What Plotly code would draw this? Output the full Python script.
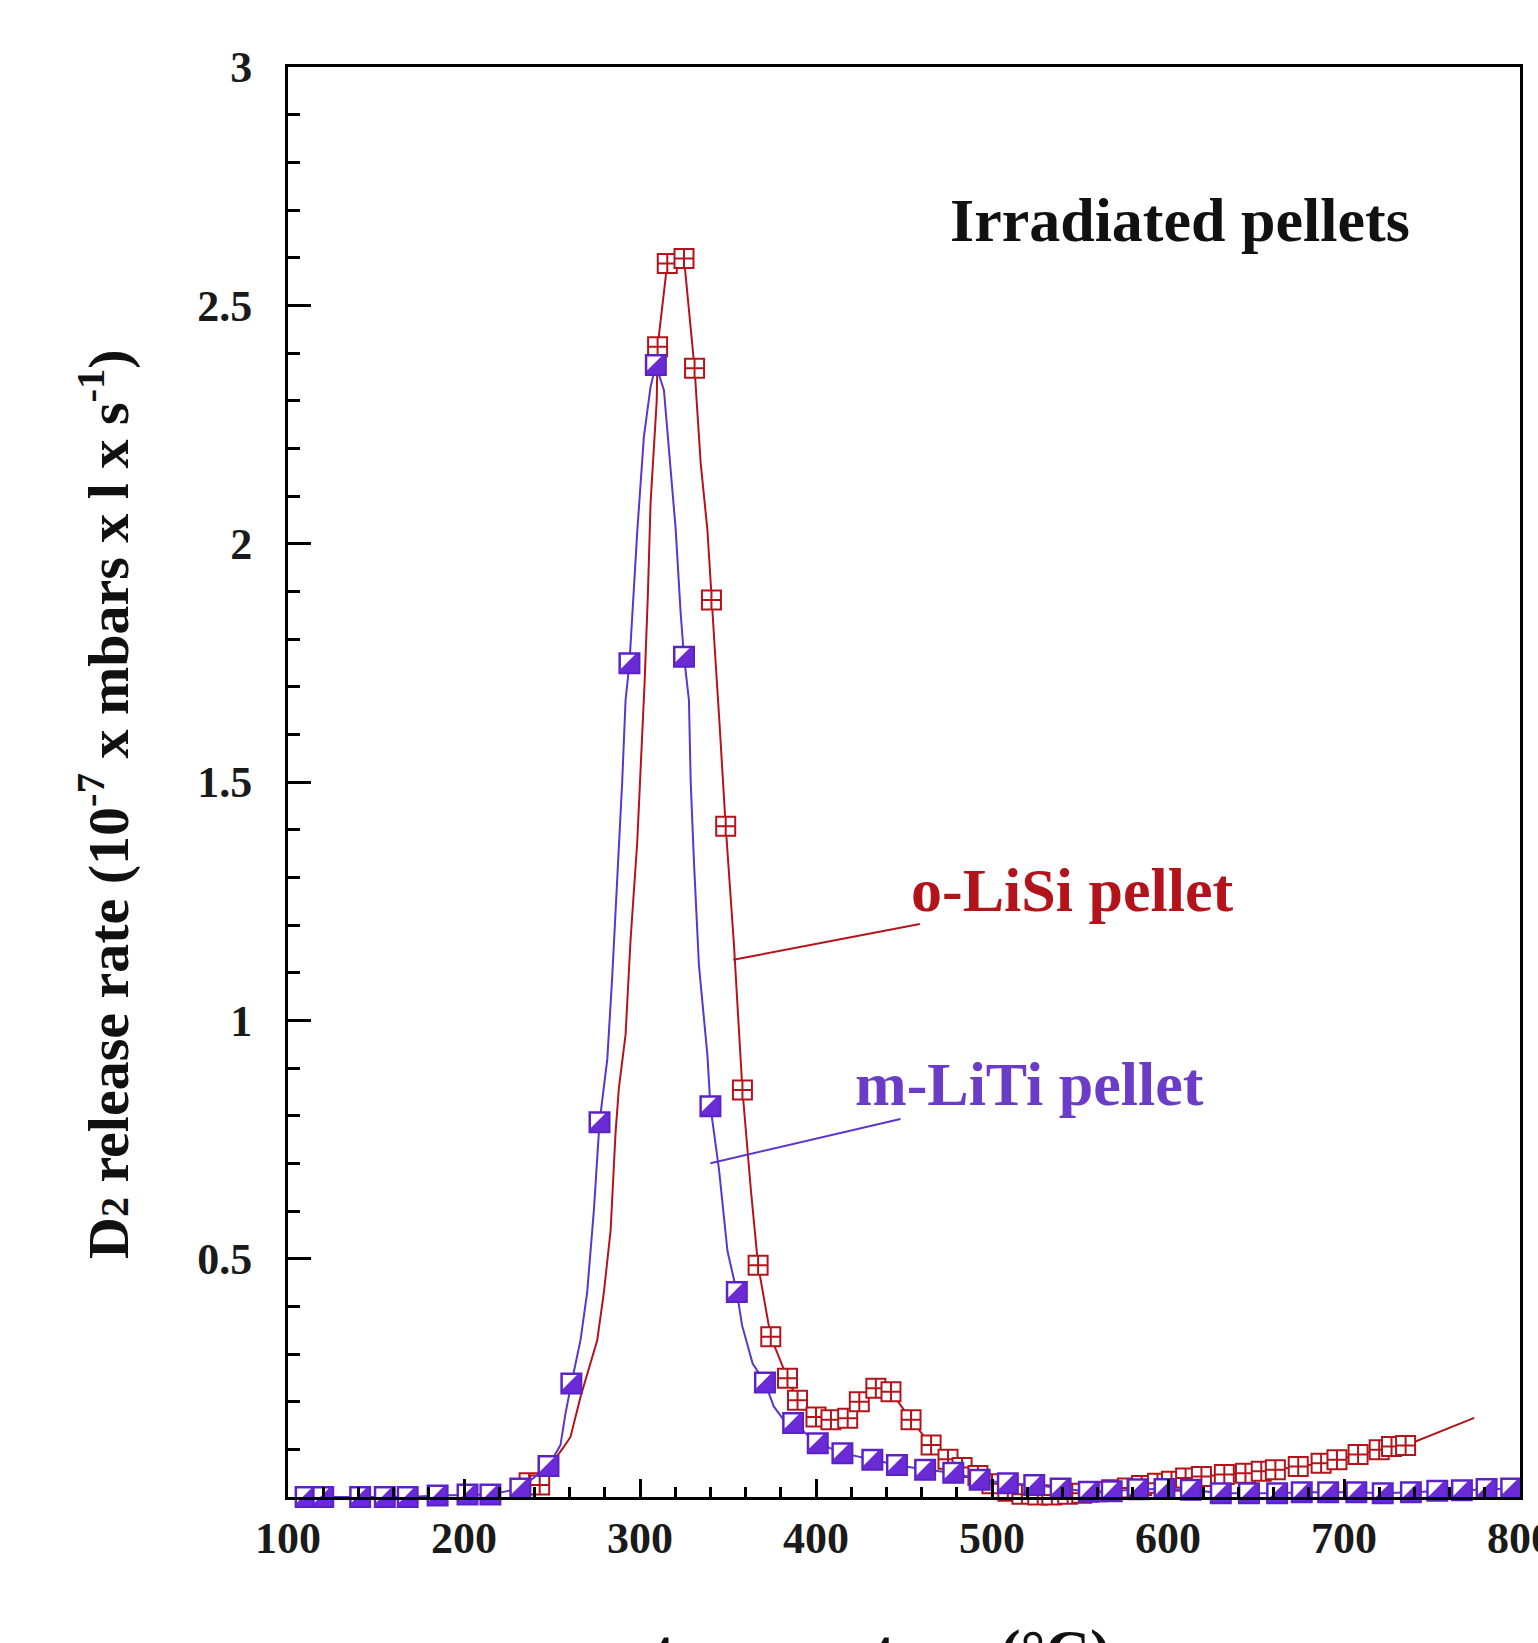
import plotly.graph_objects as go

# ---------------- data ----------------
# m-LiTi pellet : marker positions
liti_x = [110, 120, 141, 155, 168, 185, 202, 215, 232, 248, 261, 277, 294, 309, 325, 340, 355, 371,
          387, 401, 415, 432, 446, 462, 478, 493, 509, 524, 539, 555, 568, 583, 598, 613, 630, 646,
          662, 676, 691, 707, 722, 738, 753, 767, 781, 795]
liti_y = [0.0, 0.0, 0.0, 0.0, 0.0, 0.003, 0.005, 0.005, 0.018, 0.065, 0.238, 0.786, 1.749, 2.375,
          1.763, 0.82, 0.43, 0.24, 0.155, 0.113, 0.092, 0.078, 0.067, 0.057, 0.051, 0.036, 0.029,
          0.025, 0.018, 0.011, 0.012, 0.016, 0.017, 0.015, 0.008, 0.008, 0.008, 0.01, 0.01, 0.01,
          0.008, 0.01, 0.013, 0.014, 0.017, 0.018]

# m-LiTi pellet : curve vertices
liti_line_x = [110, 120, 141, 155, 168, 185, 202, 215, 232, 248, 254.8, 257.7, 261, 266.2, 270, 273.8,
               277, 281.4, 284.2, 287.1, 289.9, 291.8, 294, 298.5, 302.2, 306, 309, 313.6, 317.4,
               320.3, 323.1, 325, 327.8, 328.8, 330.7, 333.5, 338.3, 340, 344.9, 349.7, 355, 358,
               364, 371, 376, 381, 387, 401, 415, 432, 446, 462, 478, 493, 509, 524, 539, 555, 568,
               583, 598, 613, 630, 646, 662, 676, 691, 707, 722, 738, 753, 767, 781, 795]
liti_line_y = [0.0, 0.0, 0.0, 0.0, 0.0, 0.003, 0.005, 0.005, 0.018, 0.065, 0.109, 0.176, 0.238, 0.329,
               0.43, 0.602, 0.786, 0.918, 1.09, 1.287, 1.501, 1.672, 1.749, 2.029, 2.224, 2.329,
               2.375, 2.322, 2.154, 2.029, 1.854, 1.763, 1.672, 1.501, 1.329, 1.115, 0.927, 0.82,
               0.687, 0.516, 0.43, 0.36, 0.28, 0.24, 0.19, 0.165, 0.155, 0.113, 0.092, 0.078, 0.067,
               0.057, 0.051, 0.036, 0.029, 0.025, 0.018, 0.011, 0.012, 0.016, 0.017, 0.015, 0.008,
               0.008, 0.008, 0.01, 0.01, 0.01, 0.008, 0.01, 0.013, 0.014, 0.017, 0.018]

# o-LiSi pellet : marker positions
lisi_x = [237, 243, 310, 315.5, 325, 331, 340.6, 348.7, 358.2, 367.1, 374.3, 383.8, 389.5, 400,
          408.5, 418, 424.6, 434, 442.6, 454, 465.4, 475, 483, 492, 500, 509, 517, 526, 534, 543,
          551, 560, 568, 577, 585, 594, 602, 610, 619, 632, 644, 653, 661, 674, 687, 696, 708, 720,
          727, 735]
lisi_y = [0.03, 0.025, 2.413, 2.588, 2.598, 2.368, 1.882, 1.407, 0.854, 0.486, 0.336, 0.249, 0.203,
          0.168, 0.162, 0.165, 0.2, 0.228, 0.221, 0.162, 0.109, 0.079, 0.062, 0.045, 0.028, 0.012,
          0.006, 0.004, 0.004, 0.006, 0.008, 0.011, 0.015, 0.019, 0.024, 0.029, 0.033, 0.04, 0.043,
          0.047, 0.05, 0.054, 0.057, 0.064, 0.071, 0.078, 0.089, 0.099, 0.106, 0.108]

# o-LiSi pellet : curve vertices
lisi_line_x = [237, 243, 247.2, 252, 256.7, 260.5, 266.2, 271, 275.7, 279.5, 283.3, 286.1, 288, 291.8,
               294.6, 298.4, 300.3, 302.6, 304.5, 306, 309.5, 310, 315.5, 325, 331, 334.5, 338.3,
               340.6, 343, 344.9, 348.7, 353.4, 358.2, 363, 367.1, 374.3, 383.8, 389.5, 400, 408.5,
               418, 424.6, 434, 442.6, 454, 465.4, 475, 483, 492, 500, 509, 517, 526, 534, 543, 551,
               560, 568, 577, 585, 594, 602, 610, 619, 632, 644, 653, 661, 674, 687, 696, 708, 720,
               727, 735, 774]
lisi_line_y = [0.03, 0.025, 0.057, 0.08, 0.105, 0.126, 0.21, 0.27, 0.329, 0.43, 0.559, 0.764, 0.858,
               0.97, 1.167, 1.372, 1.518, 1.707, 1.896, 2.085, 2.3, 2.413, 2.588, 2.598, 2.368, 2.168,
               2.029, 1.882, 1.749, 1.64, 1.407, 1.158, 0.854, 0.644, 0.486, 0.336, 0.249, 0.203,
               0.168, 0.162, 0.165, 0.2, 0.228, 0.221, 0.162, 0.109, 0.079, 0.062, 0.045, 0.028,
               0.012, 0.006, 0.004, 0.004, 0.006, 0.008, 0.011, 0.015, 0.019, 0.024, 0.029, 0.033,
               0.04, 0.043, 0.047, 0.05, 0.054, 0.057, 0.064, 0.071, 0.078, 0.089, 0.099, 0.106,
               0.108, 0.166]

# leader lines of the labels
lisi_leader_x = [459, 353]
lisi_leader_y = [1.202, 1.127]
liti_leader_x = [448, 340]
liti_leader_y = [0.793, 0.700]

x_ticks = [100, 200, 300, 400, 500, 600, 700, 800]
x_ticktext = ["100", "200", "300", "400", "500", "600", "700", "800"]
y_ticks = [0.5, 1, 1.5, 2, 2.5, 3]
y_ticktext = ["0.5", "1", "1.5", "2", "2.5", "3"]

# ---------------- style ----------------
RED = "#b3141b"
PURPLE = "#6a2bd6"
PURPLE_LINE = "#5b35cc"
SERIF = "Liberation Serif"

W, H = 1538, 1643
ML, MR, MT, MB = 288, 18, 67, 146
XR = [100, 800]
YR = [0, 3]
px_x = (W - ML - MR) / (XR[1] - XR[0])
px_y = (H - MT - MB) / (YR[1] - YR[0])

SQ = 20          # purple square marker size
TRI = 15.5       # white triangle size
shift_px = (SQ / 2 - 1.5) - 0.3 * TRI
tri_x = [v - shift_px / px_x for v in liti_x]
tri_y = [v + shift_px / px_y for v in liti_y]

fig = go.Figure()

# o-LiSi
fig.add_trace(go.Scatter(x=lisi_line_x, y=lisi_line_y, mode="lines",
                         line=dict(color=RED, width=2), hoverinfo="skip"))
fig.add_trace(go.Scatter(x=lisi_x, y=lisi_y, mode="markers", cliponaxis=False,
                         marker=dict(symbol="square-cross", size=19, color="white",
                                     line=dict(color=RED, width=2))))
# m-LiTi
fig.add_trace(go.Scatter(x=liti_line_x, y=liti_line_y, mode="lines",
                         line=dict(color=PURPLE_LINE, width=2), hoverinfo="skip"))
fig.add_trace(go.Scatter(x=liti_x, y=liti_y, mode="markers", cliponaxis=False,
                         marker=dict(symbol="square", size=SQ, color=PURPLE,
                                     line=dict(color="#5a22c4", width=2))))
fig.add_trace(go.Scatter(x=tri_x, y=tri_y, mode="markers", cliponaxis=False, hoverinfo="skip",
                         marker=dict(symbol="triangle-nw", size=TRI, color="white",
                                     line=dict(width=0))))

# leader lines
fig.add_trace(go.Scatter(x=lisi_leader_x, y=lisi_leader_y, mode="lines",
                         line=dict(color=RED, width=2), hoverinfo="skip"))
fig.add_trace(go.Scatter(x=liti_leader_x, y=liti_leader_y, mode="lines",
                         line=dict(color=PURPLE_LINE, width=2), hoverinfo="skip"))

axis_common = dict(showline=True, linewidth=3, linecolor="black", mirror=True,
                   showgrid=False, zeroline=False, ticks="inside", tickcolor="black",
                   tickwidth=3, ticklabeloverflow="allow", automargin=False,
                   tickfont=dict(family=SERIF, size=44, color="#1a1a1a", weight="bold"))

fig.update_xaxes(range=XR, tickmode="array", tickvals=x_ticks, ticktext=x_ticktext,
                 ticklen=18,
                 minor=dict(tick0=100, dtick=20, ticks="inside", ticklen=10, tickwidth=2.5,
                            tickcolor="black", showgrid=False),
                 **axis_common)
fig.update_yaxes(range=YR, tickmode="array", tickvals=y_ticks, ticktext=y_ticktext,
                 ticklen=23, ticklabelstandoff=24,
                 minor=dict(tick0=0, dtick=0.1, ticks="inside", ticklen=12, tickwidth=2.5,
                            tickcolor="black", showgrid=False),
                 **axis_common)

ann_font = dict(family=SERIF, size=62, weight="bold")
fig.update_layout(
    width=W, height=H,
    margin=dict(l=ML, r=MR, t=MT, b=MB, pad=0, autoexpand=False),
    plot_bgcolor="white", paper_bgcolor="white",
    showlegend=False,
    annotations=[
        dict(x=607, y=2.679, xref="x", yref="y", text="Irradiated pellets", showarrow=False,
             xanchor="center", yanchor="middle", font=dict(color="#111111", **ann_font)),
        dict(x=545.6, y=1.273, xref="x", yref="y", text="o-LiSi pellet", showarrow=False,
             xanchor="center", yanchor="middle", font=dict(color=RED, **ann_font)),
        dict(x=521.4, y=0.866, xref="x", yref="y", text="m-LiTi pellet", showarrow=False,
             xanchor="center", yanchor="middle", font=dict(color="#6a3cc8", **ann_font)),
        dict(x=(883 - ML) / (W - ML - MR), y=(H - MB - 1615) / (H - MT - MB),
             xref="paper", yref="paper", text="temperature (°C)", showarrow=False,
             xanchor="center", yanchor="top",
             font=dict(family=SERIF, size=62, color="#111111", weight="bold")),
        dict(x=(105 - ML) / (W - ML - MR), y=(H - MB - 804) / (H - MT - MB),
             xref="paper", yref="paper",
             text="D<span style='font-size:40px'>2</span> release rate (10<sup>-7</sup> x mbars x l x s<sup>-1</sup>)",
             textangle=-90, showarrow=False, xanchor="center", yanchor="middle",
             font=dict(family=SERIF, size=58, color="#111111", weight="bold")),
    ],
)

fig.write_html("out.html")
